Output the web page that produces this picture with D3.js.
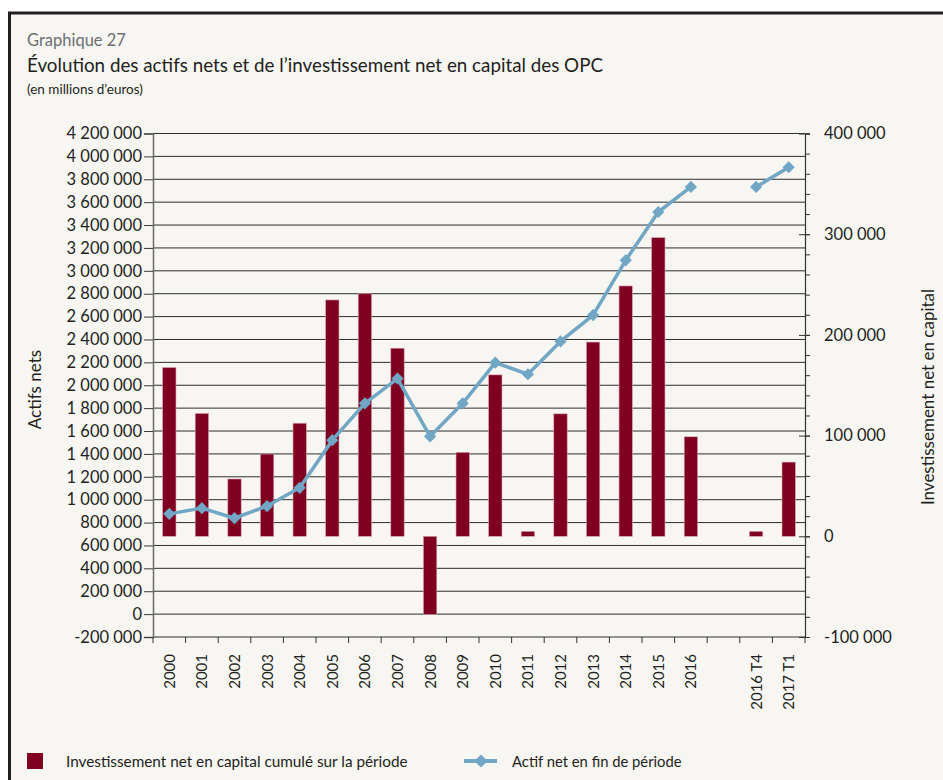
<!DOCTYPE html>
<html>
<head>
<meta charset="utf-8">
<script src="https://cdn.jsdelivr.net/npm/d3@7"></script>
<style>
  html, body { margin: 0; padding: 0; background: #ffffff; }
  svg { display: block; }
  text { font-family: Lato, "Open Sans", sans-serif; fill: #231f20; }
</style>
</head>
<body>
<svg id="chart" width="943" height="780"></svg>
<script>
// ---- Data ----
const categories = ["2000","2001","2002","2003","2004","2005","2006","2007","2008","2009",
                    "2010","2011","2012","2013","2014","2015","2016","","2016 T4","2017 T1"];
// Investissement net en capital cumulé sur la période (right axis, millions d'euros)
const investissement = [167600,122000,56900,81700,112300,234700,240800,186800,-77500,83400,
                        160300,4900,121600,192900,248600,296600,98800,null,4900,73700];
// Actif net en fin de période (left axis, millions d'euros)
const actifNet = [876000,926000,838000,944000,1104000,1520000,1842000,2058000,1553000,1842000,
                  2197000,2096000,2383000,2613000,3092000,3514000,3733000,null,3733000,3905000];
const leftTicks = d3.range(-200000, 4200001, 200000);
const rightTicks = d3.range(-100000, 400001, 100000);
const rightMinorTicks = d3.range(-100000, 400001, 20000);

const titleSmall = "Graphique 27";
const title = "Évolution des actifs nets et de l’investissement net en capital des OPC";
const subtitle = "(en millions d’euros)";
const leftLabel = "Actifs nets";
const rightLabel = "Investissement net en capital";
const legendBar = "Investissement net en capital cumulé sur la période";
const legendLine = "Actif net en fin de période";

// ---- Setup ----
const barColor = "#7f0021";
const lineColor = "#71a6c4";
const svg = d3.select("#chart");
const W = 943, H = 780;
const M = { left: 153, right: 805, top: 133.5, bottom: 637 };

const locale = d3.formatLocale({ decimal: ",", thousands: "\u00a0", grouping: [3], currency: ["", " €"], minus: "-" });
const fmt = locale.format(",.0f");

// Frame
svg.append("rect").attr("x", 0).attr("y", 0).attr("width", W).attr("height", H).attr("fill", "#ffffff");
svg.append("rect").attr("x", 9.5).attr("y", 13).attr("width", W + 20).attr("height", H + 20)
  .attr("fill", "#f7f6f2").attr("stroke", "#231f20").attr("stroke-width", 3);

// Titles
svg.append("text").attr("x", 27).attr("y", 46).attr("font-size", 16.5).style("fill", "#6d6e71").text(titleSmall);
svg.append("text").attr("x", 27).attr("y", 72).attr("font-size", 18.8).text(title);
svg.append("text").attr("x", 27).attr("y", 94).attr("font-size", 13.5).text(subtitle);

// Scales
const x = d3.scaleBand().domain(categories).range([M.left, M.right]).paddingInner(0).paddingOuter(0);
const yL = d3.scaleLinear().domain([-200000, 4200000]).range([M.bottom, M.top]);
const yR = d3.scaleLinear().domain([-100000, 400000]).range([M.bottom, M.top]);

// Gridlines
svg.append("g").selectAll("line").data(leftTicks).join("line")
  .attr("x1", M.left).attr("x2", M.right)
  .attr("y1", d => yL(d)).attr("y2", d => yL(d))
  .attr("stroke", "#2e2e2e").attr("stroke-width", 1);

// Left axis
const gL = svg.append("g").attr("transform", `translate(${M.left},0)`)
  .call(d3.axisLeft(yL).tickValues(leftTicks).tickFormat(fmt).tickSize(9).tickPadding(2));
gL.select(".domain").attr("stroke", "#6b6b6b").attr("stroke-width", 1.5);
gL.selectAll(".tick line").attr("stroke", "#3a3a3a");
gL.selectAll(".tick text").attr("font-family", "Lato, sans-serif").attr("font-size", 16.5).style("fill", "#231f20");

// Right axis: minor ticks + major
const gRm = svg.append("g").attr("transform", `translate(${M.right},0)`)
  .call(d3.axisRight(yR).tickValues(rightMinorTicks).tickFormat("").tickSize(5));
gRm.select(".domain").attr("stroke", "#333").attr("stroke-width", 1.2);
gRm.selectAll(".tick line").attr("stroke", "#333");
const gR = svg.append("g").attr("transform", `translate(${M.right},0)`)
  .call(d3.axisRight(yR).tickValues(rightTicks).tickFormat(fmt).tickSize(5).tickPadding(14));
gR.select(".domain").remove();
gR.selectAll(".tick line").attr("x1", -6).attr("stroke", "#333");
gR.selectAll(".tick text").attr("font-family", "Lato, sans-serif").attr("font-size", 16.5).style("fill", "#231f20");

// X axis ticks at band boundaries
const bounds = categories.map(c => x(c)).concat([M.right]);
svg.append("g").selectAll("line").data(bounds).join("line")
  .attr("x1", d => d).attr("x2", d => d)
  .attr("y1", M.bottom).attr("y2", M.bottom + 6)
  .attr("stroke", "#333").attr("stroke-width", 1);

// X labels
svg.append("g").selectAll("text").data(categories).join("text")
  .attr("transform", d => `translate(${x(d) + x.bandwidth() / 2},654) rotate(-90)`)
  .attr("text-anchor", "end").attr("dy", "0.36em")
  .attr("font-family", "'DejaVu Sans', sans-serif").attr("font-size", 15)
  .text(d => d);

// Bars
const barW = x.bandwidth() * 0.41;
svg.append("g").selectAll("rect")
  .data(categories.map((c, i) => ({ c, v: investissement[i] })).filter(d => d.v != null))
  .join("rect")
  .attr("x", d => x(d.c) + (x.bandwidth() - barW) / 2)
  .attr("y", d => yR(Math.max(0, d.v)))
  .attr("width", barW)
  .attr("height", d => Math.abs(yR(d.v) - yR(0)))
  .attr("fill", barColor).attr("stroke", "#d8a3b0").attr("stroke-width", 0.6);

// Line
const pts = categories.map((c, i) => ({ c, v: actifNet[i] }));
const line = d3.line().defined(d => d.v != null)
  .x(d => x(d.c) + x.bandwidth() / 2).y(d => yL(d.v));
svg.append("path").datum(pts).attr("d", line)
  .attr("fill", "none").attr("stroke", lineColor).attr("stroke-width", 3.5).attr("stroke-linejoin", "round");
const diamond = d3.symbol().type(d3.symbolDiamond2).size(95);
svg.append("g").selectAll("path").data(pts.filter(d => d.v != null)).join("path")
  .attr("transform", d => `translate(${x(d.c) + x.bandwidth() / 2},${yL(d.v)})`)
  .attr("d", diamond).attr("fill", lineColor);

// Axis titles
svg.append("text").attr("transform", "translate(35.5,389.5) rotate(-90)")
  .attr("text-anchor", "middle").attr("dy", "0.35em").attr("font-size", 17).text(leftLabel);
svg.append("text").attr("transform", "translate(928.5,397) rotate(-90)")
  .attr("text-anchor", "middle").attr("dy", "0.35em").attr("font-size", 17).text(rightLabel);

// Legend
svg.append("rect").attr("x", 27).attr("y", 753).attr("width", 16).attr("height", 16).attr("fill", barColor);
svg.append("text").attr("x", 66).attr("y", 767).attr("font-size", 15.3).text(legendBar);
svg.append("line").attr("x1", 464).attr("x2", 497).attr("y1", 761).attr("y2", 761)
  .attr("stroke", lineColor).attr("stroke-width", 4);
svg.append("path").attr("transform", "translate(481,761)").attr("d", d3.symbol().type(d3.symbolDiamond2).size(110)).attr("fill", lineColor);
svg.append("text").attr("x", 512).attr("y", 767).attr("font-size", 14.8).text(legendLine);
</script>
</body>
</html>
